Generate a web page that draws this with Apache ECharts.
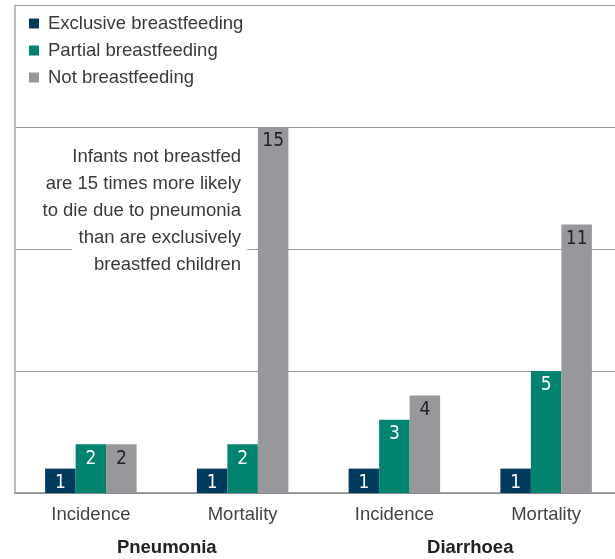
<!DOCTYPE html>
<html>
<head>
<meta charset="utf-8">
<script src="https://cdn.jsdelivr.net/npm/echarts@6/dist/echarts.min.js"></script>
<style>
  html, body { margin: 0; padding: 0; background: #fff; }
  #chart { width: 615px; height: 559px; }
</style>
</head>
<body>
<div id="chart"></div>
<script>
const categories = ['Incidence', 'Mortality', 'Incidence', 'Mortality'];
const groups = ['Pneumonia', 'Diarrhoea'];
const exclusive = [1, 1, 1, 1];
const partial = [2, 2, 3, 5];
const notBreastfed = [2, 15, 4, 11];
const seriesNames = ['Exclusive breastfeeding', 'Partial breastfeeding', 'Not breastfeeding'];
const colors = ['#003a5d', '#00836f', '#97989b'];
const note = 'Infants not breastfed\nare 15 times more likely\nto die due to pneumonia\nthan are exclusively\nbreastfed children';

const baseFont = '"Liberation Sans", Arial, sans-serif';

const chart = echarts.init(document.getElementById('chart'));

function barSeries(name, data, labelColor) {
  return {
    name: name,
    type: 'bar',
    data: data,
    barWidth: 30.5,
    barGap: '0%',
    xAxisIndex: 0,
    label: {
      show: true,
      position: 'insideTop',
      distance: 5,
      color: labelColor,
      fontSize: 19,
      fontStyle: 'condensed',
      fontFamily: '"DejaVu Sans Condensed", "DejaVu Sans", sans-serif'
    }
  };
}

chart.setOption({
  animation: false,
  color: colors,
  grid: { left: 15, width: 607, top: 5, bottom: 66, outerBoundsMode: 'none' },
  legend: {
    orient: 'vertical',
    left: 24,
    top: 9,
    icon: 'rect',
    itemWidth: 10,
    itemHeight: 10,
    itemGap: 8,
    data: seriesNames,
    textStyle: { fontSize: 18.5, color: '#3a3a3a', fontFamily: baseFont, padding: [0, 0, 0, 4] }
  },
  xAxis: [
    {
      type: 'category',
      data: categories,
      axisLine: { lineStyle: { color: '#888', width: 1.5 } },
      axisTick: { show: false },
      axisLabel: { fontSize: 18.5, color: '#444', margin: 12, fontFamily: baseFont }
    },
    {
      type: 'category',
      data: groups,
      position: 'bottom',
      offset: 37,
      axisLine: { show: false },
      axisTick: { show: false },
      axisLabel: { fontSize: 18.5, fontWeight: 'bold', color: '#222', fontFamily: baseFont }
    }
  ],
  yAxis: {
    type: 'value',
    min: 0,
    max: 20,
    interval: 5,
    axisLabel: { show: false },
    axisTick: { show: false },
    axisLine: { show: true, lineStyle: { color: '#aaa', width: 1.5 } },
    splitLine: { lineStyle: { color: '#999', width: 1 } }
  },
  graphic: [
    {
      type: 'rect',
      x: 72,
      y: 240,
      z: 9,
      shape: { width: 175, height: 16 },
      style: { fill: '#fff' }
    },
    {
      type: 'text',
      x: 241,
      y: 143,
      z: 10,
      style: {
        text: note,
        align: 'right',
        verticalAlign: 'top',
        fill: '#3a3a3a',
        fontSize: 18.5,
        lineHeight: 27,
        fontFamily: baseFont
      }
    }
  ],
  series: [
    barSeries(seriesNames[0], exclusive, '#fff'),
    barSeries(seriesNames[1], partial, '#fff'),
    barSeries(seriesNames[2], notBreastfed, '#222')
  ]
});
</script>
</body>
</html>
